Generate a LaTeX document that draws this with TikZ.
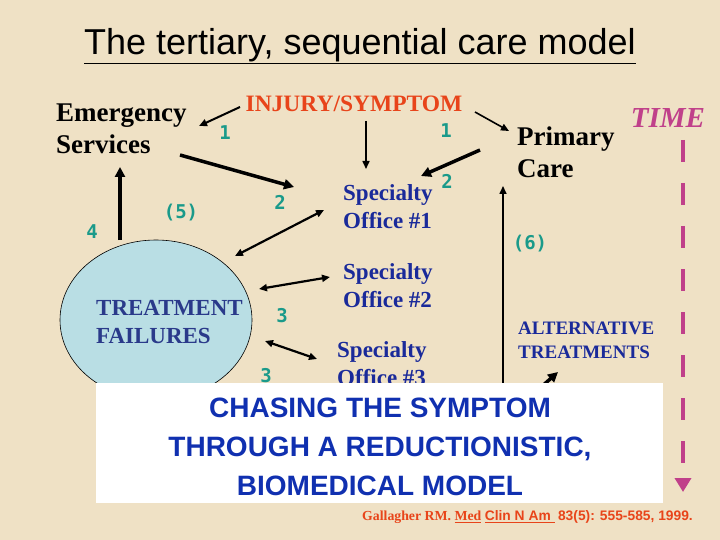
\documentclass[tikz,border=0pt]{standalone}
\usepackage{fontspec}
\setmainfont{Liberation Serif}
\setsansfont{Liberation Sans}
\setmonofont{DejaVu Sans Mono}
\usetikzlibrary{arrows.meta,shapes.geometric}
\definecolor{bg}{HTML}{EFE1C5}
\definecolor{ellc}{HTML}{B9DEE4}
\definecolor{injc}{HTML}{E8441A}
\definecolor{tealc}{HTML}{1A9A8A}
\definecolor{spc}{HTML}{1A2A9A}
\definecolor{tfc}{HTML}{2A3A8A}
\definecolor{timec}{HTML}{C0408A}
\definecolor{boxtxt}{HTML}{1030B0}
\begin{document}
\begin{tikzpicture}[x=1pt,y=-1pt,
  num/.style={text=tealc,font=\ttfamily\bfseries\fontsize{19}{19}\selectfont,inner sep=0},
  blk/.style={font=\bfseries\fontsize{27}{32}\selectfont,align=left,anchor=west,inner sep=0},
  spec/.style={text=spc,font=\bfseries\fontsize{23}{28}\selectfont,align=left,anchor=west,inner sep=0},
  arr/.style={-{Triangle[length=8pt,width=7pt]},line width=1.6pt},
  thick arr/.style={-{Triangle[length=10pt,width=10pt]},line width=3.5pt},
  darr/.style={{Triangle[length=8pt,width=7pt]}-{Triangle[length=8pt,width=7pt]},line width=2.2pt}]
\fill[bg] (0,0) rectangle (720,540);
\useasboundingbox (0,0) rectangle (720,540);
\node[font=\sffamily\fontsize{36}{36}\selectfont,inner sep=0] (title) at (360,46) {\underline{The tertiary, sequential care model}};
\node[draw=black,fill=ellc,ellipse,minimum width=192pt,minimum height=160pt,inner sep=0,line width=0.6pt] (ell) at (156,320) {};
\node[spec,text=tfc,font=\bfseries\fontsize{23}{28}\selectfont] (tf) at (96,322) {TREATMENT\\FAILURES};
\node[blk] (em) at (56,129) {Emergency\\Services};
\node[blk] (pc) at (517,152) {Primary\\Care};
\node[text=injc,font=\bfseries\fontsize{23.5}{20}\selectfont,inner sep=0] (inj) at (354,104) {INJURY/SYMPTOM};
\node[text=timec,font=\bfseries\itshape\fontsize{29}{29}\selectfont,inner sep=0] (time) at (668,118) {TIME};
\node[spec] (s1) at (343,207) {Specialty\\Office \#1};
\node[spec] (s2) at (343,286) {Specialty\\Office \#2};
\node[spec] (s3) at (337,364) {Specialty\\Office \#3};
\node[text=spc,font=\bfseries\fontsize{19}{24}\selectfont,align=left,anchor=west,inner sep=0] (alt) at (518,340) {ALTERNATIVE\\TREATMENTS};
\node[num] (n1a) at (225,133) {1};
\node[num] (n1b) at (446,131) {1};
\node[num] (n2a) at (280,202) {2};
\node[num] (n2b) at (447,181) {2};
\node[num] (n5) at (181,213) {(5)};
\node[num] (n4) at (92,232) {4};
\node[num] (n3a) at (282,316) {3};
\node[num] (n3b) at (266,376) {3};
\node[num] (n6) at (530,244) {(6)};
\coordinate (i1) at (240,107); \coordinate (e1) at (199,126);
\draw[arr,line width=2pt] (i1) -- (e1);
\coordinate (i2) at (366,121); \coordinate (s1t) at (366,169);
\draw[arr] (i2) -- (s1t);
\coordinate (i3) at (475,112); \coordinate (p1) at (509,131);
\draw[arr] (i3) -- (p1);
\coordinate (e2) at (180,155); \coordinate (s1l) at (294,187);
\draw[thick arr] (e2) -- (s1l);
\coordinate (p2) at (480,150); \coordinate (s1r) at (421,176);
\draw[thick arr] (p2) -- (s1r);
\coordinate (el1) at (120,240); \coordinate (e3) at (120,167);
\draw[thick arr] (el1) -- (e3);
\coordinate (el2) at (235,256); \coordinate (s1b) at (324,210);
\draw[darr] (el2) -- (s1b);
\coordinate (el3) at (259,289); \coordinate (s2l) at (330,277);
\draw[darr] (el3) -- (s2l);
\coordinate (el4) at (265,341); \coordinate (s3l) at (317,359);
\draw[darr] (el4) -- (s3l);
\coordinate (b1) at (503,390); \coordinate (pcb) at (503,186);
\draw[arr] (b1) -- (pcb);
\coordinate (b2) at (530,397); \coordinate (altb) at (558,372);
\draw[thick arr] (b2) -- (altb);
\coordinate (t1) at (683,140); \coordinate (t2) at (683,492);
\draw[timec,line width=4pt,dash pattern=on 22pt off 21pt,-{Triangle[length=14pt,width=16pt]}] (t1) -- (t2);
\node[fill=white,minimum width=567pt,minimum height=120pt,inner sep=0] (box) at (379.5,443) {};
\node[text=boxtxt,font=\sffamily\bfseries\fontsize{28}{39}\selectfont,align=center,inner sep=0] (chase) at (380,447) {CHASING THE SYMPTOM\\THROUGH A REDUCTIONISTIC,\\BIOMEDICAL MODEL};
\node[text=injc,font=\bfseries\fontsize{13.8}{14}\selectfont,anchor=west,inner sep=0] (cite) at (362,517) {Gallagher RM. \underline{Med} {\sffamily\underline{Clin N Am\ }} {\sffamily 83(5): 555-585, 1999.}};
\end{tikzpicture}
\end{document}
